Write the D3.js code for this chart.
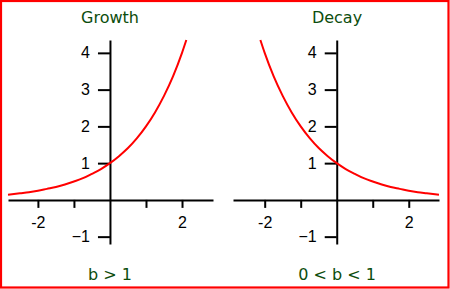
<!DOCTYPE html>
<html>
<head>
<meta charset="utf-8">
<script src="https://cdn.jsdelivr.net/npm/d3@7/dist/d3.min.js"></script>
<style>
  html, body { margin: 0; padding: 0; background: #fff; }
  svg { display: block; }
  text { white-space: pre; }
</style>
</head>
<body>
<svg id="chart" width="450" height="289"></svg>
<script>
// ---- data ----
const panelTitles = ["Growth", "Decay"];
const panelCaptions = ["b > 1", "0 < b < 1"];
const yTickValues = [-1, 1, 2, 3, 4];
const xTickValues = [-2, -1, 1, 2];
const xTickLabels = {"-2": "-2", "2": "2"};

// growth curve points (y = 2^x shape)
const growthX = [-2.83, -2.5, -2.25, -2, -1.75, -1.5, -1.25, -1, -0.75, -0.5, -0.25, 0, 0.25, 0.5, 0.75, 1, 1.25, 1.5, 1.75, 2, 2.12];
const growthY = [0.14, 0.18, 0.21, 0.25, 0.30, 0.35, 0.42, 0.50, 0.59, 0.71, 0.84, 1.00, 1.19, 1.41, 1.68, 2.00, 2.38, 2.83, 3.36, 4.00, 4.35];
// decay curve points (y = (1/2)^x shape)
const decayX = [-2.12, -2, -1.75, -1.5, -1.25, -1, -0.75, -0.5, -0.25, 0, 0.25, 0.5, 0.75, 1, 1.25, 1.5, 1.75, 2, 2.25, 2.5, 2.84];
const decayY = [4.35, 4.00, 3.36, 2.83, 2.38, 2.00, 1.68, 1.41, 1.19, 1.00, 0.84, 0.71, 0.59, 0.50, 0.42, 0.35, 0.30, 0.25, 0.21, 0.18, 0.14];

const svg = d3.select("#chart");

// frame
svg.append("rect")
  .attr("x", 1).attr("y", 1).attr("width", 447.5).attr("height", 286.5)
  .attr("fill", "#fff").attr("stroke", "#ff0000").attr("stroke-width", 2.2);

const panels = [
  { xRange: [8, 213], xDomain: [-2.83, 2.86], xs: growthX, ys: growthY, cx: 110 },
  { xRange: [233, 439], xDomain: [-2.88, 2.84], xs: decayX, ys: decayY, cx: 337 }
];

const y = d3.scaleLinear().domain([-1.2, 4.35]).range([244, 40]);

panels.forEach((p, i) => {
  const x = d3.scaleLinear().domain(p.xDomain).range(p.xRange);
  const g = svg.append("g");

  // x axis
  const xAxis = d3.axisBottom(x)
    .tickValues(xTickValues)
    .tickSize(8).tickSizeOuter(0).tickPadding(9)
    .tickFormat(d => xTickLabels[String(d)] || "");
  const gx = g.append("g").attr("transform", `translate(0,${y(0)})`).call(xAxis);

  // y axis
  const yAxis = d3.axisLeft(y)
    .tickValues(yTickValues)
    .tickSize(12).tickSizeOuter(0).tickPadding(8)
    .tickFormat(d3.format("d"));
  const gy = g.append("g").attr("transform", `translate(${x(0)},0)`).call(yAxis);

  [gx, gy].forEach(a => {
    a.selectAll("path.domain").attr("stroke", "#000").attr("stroke-width", 2);
    a.selectAll(".tick line").attr("stroke", "#000").attr("stroke-width", 2);
    a.selectAll(".tick text")
      .attr("fill", "#000")
      .style("font-family", "'Liberation Sans', Arial, sans-serif")
      .style("font-size", "16px");
  });

  // curve
  const pts = p.xs.map((v, k) => [v, p.ys[k]]);
  g.append("path")
    .datum(pts)
    .attr("fill", "none")
    .attr("stroke", "#ff0000")
    .attr("stroke-width", 2)
    .attr("d", d3.line().x(d => x(d[0])).y(d => y(d[1])).curve(d3.curveMonotoneX));

  // titles
  g.append("text")
    .attr("x", p.cx).attr("y", 23)
    .attr("text-anchor", "middle")
    .attr("fill", "#0d4d0d")
    .style("font-family", "'DejaVu Sans', Verdana, sans-serif")
    .style("font-size", "16px")
    .text(panelTitles[i]);

  g.append("text")
    .attr("x", p.cx).attr("y", 280)
    .attr("text-anchor", "middle")
    .attr("fill", "#0d4d0d")
    .style("font-family", "'DejaVu Sans', Verdana, sans-serif")
    .style("font-size", "16px")
    .text(panelCaptions[i]);
});
</script>
</body>
</html>
